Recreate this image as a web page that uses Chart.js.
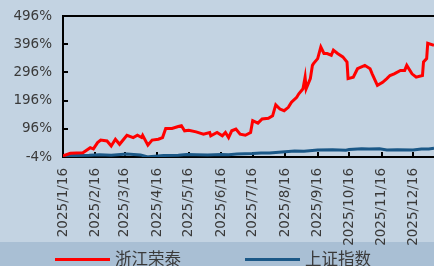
<!DOCTYPE html>
<html>
<head>
<meta charset="utf-8">
<script src="https://cdn.jsdelivr.net/npm/chart.js@4.4.1/dist/chart.umd.min.js"></script>
<style>
  html, body { margin: 0; padding: 0; background: #c3d3e2; overflow: hidden; }
  #wrap { width: 434px; height: 266px; }
</style>
</head>
<body>
<div id="wrap"><canvas id="grafico" width="434" height="266"></canvas></div>
<script>
// 浙江荣泰 vs 上证指数, rendimiento acumulado (%) desde 2025/1/16

const fechasRongtai = ['2025-01-16','2025-01-23','2025-02-04','2025-02-11','2025-02-14','2025-02-18','2025-02-21','2025-02-27','2025-03-03','2025-03-07',
  '2025-03-11','2025-03-18','2025-03-24','2025-03-28','2025-04-01','2025-04-02','2025-04-07','2025-04-11','2025-04-17','2025-04-21',
  '2025-04-24','2025-04-30','2025-05-06','2025-05-09','2025-05-12','2025-05-16','2025-05-23','2025-05-30','2025-06-05','2025-06-06',
  '2025-06-12','2025-06-17','2025-06-20','2025-06-23','2025-06-26','2025-06-30','2025-07-04','2025-07-09','2025-07-14','2025-07-16',
  '2025-07-21','2025-07-25','2025-07-31','2025-08-04','2025-08-07','2025-08-11','2025-08-15','2025-08-19','2025-08-22','2025-08-27',
  '2025-08-29','2025-09-02','2025-09-04','2025-09-05','2025-09-09','2025-09-11','2025-09-12','2025-09-16','2025-09-19','2025-09-22',
  '2025-09-25','2025-09-29','2025-10-01','2025-10-05','2025-10-10','2025-10-14','2025-10-15','2025-10-20','2025-10-24','2025-10-31',
  '2025-11-05','2025-11-07','2025-11-12','2025-11-17','2025-11-21','2025-11-24','2025-11-28','2025-12-04','2025-12-08','2025-12-10',
  '2025-12-15','2025-12-19','2025-12-25','2025-12-26','2025-12-29','2025-12-30','2026-01-05','2026-01-12']
const valoresRongtai = [0,9,11,29,25,47,56,53,35,59,
  41,73,65,73,65,73,38,56,59,65,
  97,97,104,107,89,91,85,77,83,71,
  83,71,83,65,89,95,77,73,83,125,
  116,131,133,142,181,166,160,172,190,208,
  220,238,279,238,274,321,327,345,386,363,
  363,357,375,363,351,333,274,279,309,321,
  309,291,250,261,274,285,291,303,303,321,
  291,279,285,333,345,399,392,395]

const fechasSzzs = ['2025-01-16','2025-01-27','2025-02-10','2025-02-20','2025-03-03','2025-03-18','2025-03-31','2025-04-07','2025-04-08','2025-04-22',
  '2025-05-06','2025-05-14','2025-05-23','2025-06-03','2025-06-16','2025-06-23','2025-07-01','2025-07-16','2025-07-24','2025-08-01',
  '2025-08-13','2025-08-25','2025-09-03','2025-09-16','2025-09-30','2025-10-13','2025-10-16','2025-10-28','2025-11-04','2025-11-14',
  '2025-11-21','2025-12-01','2025-12-16','2025-12-24','2025-12-31','2026-01-05','2026-01-12']
const valoresSzzs = [0,1.5,2.5,4.3,2.5,6.4,3.5,-4,-2.8,1.6,
  2.4,4.7,3.6,3,4.7,4.1,6.3,8.2,10.5,10,
  13.6,17.5,16,21,21.5,20,22.5,25,24.5,25,
  20.5,22,20.5,24,24.5,27,29]

const ticksY = [-4, 96, 196, 296, 396, 496]
const fechasTicks = ['2025-01-16','2025-02-16','2025-03-16','2025-04-16','2025-05-16','2025-06-16',
  '2025-07-16','2025-08-16','2025-09-16','2025-10-16','2025-11-16','2025-12-16']
const fechaFin = '2026-01-05'


// Pasar fechas a dias desde el inicio
const base = Date.UTC(2025, 0, 16)
const dia = (s) => {
  const [a, m, d] = s.split('-').map(Number)
  return (Date.UTC(a, m - 1, d) - base) / 864e5
}
const etiqueta = (v) => {
  const f = new Date(base + v * 864e5)
  return f.getUTCFullYear() + '/' + (f.getUTCMonth() + 1) + '/' + f.getUTCDate()
}
const puntos = (fechas, valores) => fechas.map((f, i) => ({ x: dia(f), y: valores[i] }))


const fondo = {
  id: 'fondo',
  beforeDraw(chart) {
    const ctx = chart.ctx
    ctx.save()
    ctx.fillStyle = '#c3d3e2'
    ctx.fillRect(0, 0, chart.width, chart.height)
    ctx.fillStyle = '#a9bfd4'
    ctx.fillRect(0, 242, chart.width, chart.height - 242)
    ctx.restore()
  }
}

const bordeSuperior = {
  id: 'bordeSuperior',
  afterDraw(chart) {
    const { ctx, chartArea } = chart
    ctx.save()
    ctx.strokeStyle = '#000'
    ctx.lineWidth = 2
    ctx.beginPath()
    ctx.moveTo(chartArea.left - 1, chartArea.top)
    ctx.lineTo(chartArea.right, chartArea.top)
    ctx.stroke()
    ctx.restore()
  }
}

// Leyenda propia, abajo, con las series separadas como en el original
const leyenda = {
  id: 'leyenda',
  afterDraw(chart) {
    const ctx = chart.ctx
    const xs = [55, 245]
    ctx.save()
    ctx.font = "16.5px 'Noto Sans CJK SC'"
    ctx.textBaseline = 'middle'
    chart.data.datasets.forEach((ds, i) => {
      ctx.fillStyle = ds.borderColor
      ctx.fillRect(xs[i], 258, 55, 3)
      ctx.fillStyle = '#3a3a3a'
      ctx.fillText(ds.label, xs[i] + 60, 259)
    })
    ctx.restore()
  }
}

const fuenteEjes = { family: "'DejaVu Sans'", size: 13.5 }

var Canvas = document.getElementById('grafico')

var lineChart = new Chart(Canvas, {
  type: 'line',
  data: {
    datasets: [{
      label: '浙江荣泰',
      data: puntos(fechasRongtai, valoresRongtai),
      borderColor: '#ff0000',
      backgroundColor: '#ff0000',
      borderWidth: 3,
      fill: false
    }, {
      label: '上证指数',
      data: puntos(fechasSzzs, valoresSzzs),
      borderColor: '#1b5887',
      backgroundColor: '#1b5887',
      borderWidth: 3,
      fill: false
    }]
  },
  options: {
    responsive: false,
    animation: false,
    layout: { padding: { top: 16, left: 0, right: 0, bottom: 0 } },
    elements: { point: { radius: 0 }, line: { tension: 0 } },
    plugins: {
      tooltip: { enabled: false },
      legend: { display: false }
    },
    scales: {
      x: {
        type: 'linear',
        min: 0,
        max: dia(fechaFin),
        afterBuildTicks: (s) => { s.ticks = fechasTicks.map(f => ({ value: dia(f) })) },
        afterFit: (s) => {
          s.height = 109
          s.paddingLeft = 0
          s.paddingRight = 0
        },
        ticks: {
          minRotation: 90,
          maxRotation: 90,
          autoSkip: false,
          padding: 16,
          color: '#3a3a3a',
          font: fuenteEjes,
          callback: (v) => etiqueta(v)
        },
        grid: { drawOnChartArea: false, tickLength: -5, color: '#000', lineWidth: 2 },
        border: { color: '#000', width: 2 }
      },
      y: {
        min: -4,
        max: 496,
        afterBuildTicks: (s) => { s.ticks = ticksY.map(v => ({ value: v })) },
        afterFit: (s) => {
          s.width = 63
          s.paddingTop = 0
          s.paddingBottom = 0
        },
        ticks: {
          autoSkip: false,
          padding: 16,
          color: '#3a3a3a',
          font: fuenteEjes,
          callback: (v) => v + '%'
        },
        grid: { drawOnChartArea: false, tickLength: -5, color: '#000', lineWidth: 2 },
        border: { color: '#000', width: 2 }
      }
    }
  },
  plugins: [fondo, bordeSuperior, leyenda]
})
</script>
</body>
</html>
